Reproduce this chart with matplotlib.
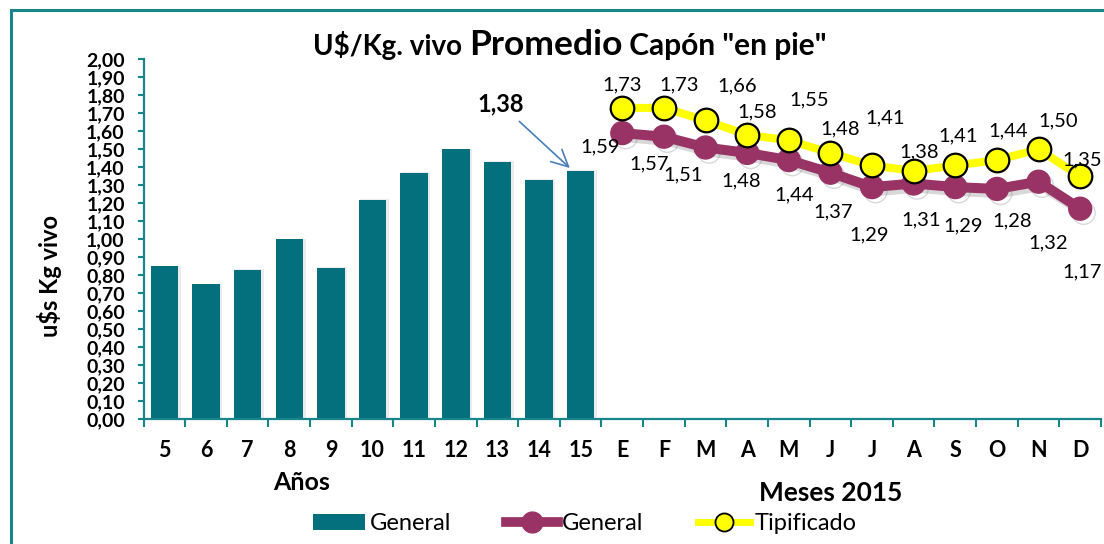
import matplotlib
matplotlib.use("Agg")
import matplotlib.pyplot as plt
import matplotlib.patheffects as pe
from matplotlib.patches import Rectangle, Patch
from matplotlib.lines import Line2D
import numpy as np

# ---------------- data ----------------
years = ["5", "6", "7", "8", "9", "10", "11", "12", "13", "14", "15"]
year_avg = [0.85, 0.75, 0.83, 1.00, 0.84, 1.22, 1.37, 1.50, 1.43, 1.33, 1.38]
months = ["E", "F", "M", "A", "M", "J", "J", "A", "S", "O", "N", "D"]
general_2015 = [1.59, 1.57, 1.51, 1.48, 1.44, 1.37, 1.29, 1.31, 1.29, 1.28, 1.32, 1.17]
tipificado_2015 = [1.73, 1.73, 1.66, 1.58, 1.55, 1.48, 1.41, 1.38, 1.41, 1.44, 1.50, 1.35]
y_ticks = [0.0, 0.1, 0.2, 0.3, 0.4, 0.5, 0.6, 0.7, 0.8, 0.9, 1.0,
           1.1, 1.2, 1.3, 1.4, 1.5, 1.6, 1.7, 1.8, 1.9, 2.0]
highlight_value = 1.38

# label offsets in pixels (layout only)
gen_offsets = [(-22, -14), (-15, -27), (-22, -27), (-6, -28), (5, -35), (3, -39),
               (-3, -48), (7, -36), (8, -39), (15, -32), (10, -61), (2, -63)]
tip_offsets = [(0, 23), (15, 23), (32, 35), (10, 23), (20, 40), (10, 24),
               (13, 48), (5, 19), (3, 30), (11, 29), (20, 28), (2, 16)]

# ---------------- style ----------------
FONT = "Lato"
plt.rcParams["font.family"] = [FONT, "DejaVu Sans"]
BAR = "#05707D"
PURPLE = "#993366"
YELLOW = "#FFFF00"
TEAL = "#17858A"

W, H = 1104, 544
fig = plt.figure(figsize=(W / 100, H / 100), dpi=100)

# outer border
fig.patches.append(Rectangle((11 / W, -0.5), 2.0, 1.5 - 10 / H, transform=fig.transFigure,
                             fill=False, edgecolor=TEAL, linewidth=2.2))

x0, x1 = 143.6, 1101.0
y0, y1 = 419.3, 59.3
ax = fig.add_axes([x0 / W, 1 - y0 / H, (x1 - x0) / W, (y0 - y1) / H])
ax.set_facecolor("none")

n_years = len(years)
xb = np.arange(n_years)
xl = np.arange(n_years, n_years + len(months))

# bar shadows + bars
ax.bar(xb + 0.04, [v + 0.004 for v in year_avg], width=0.70, color="#ececec", zorder=1)
ax.bar(xb, year_avg, width=0.66, color=BAR, zorder=2)

shadow = [pe.SimpleLineShadow(offset=(2.5, -3), shadow_color="#666666", alpha=0.25), pe.Normal()]
ax.plot(xl, general_2015, color=PURPLE, lw=7.2, marker="o", ms=16.5, mfc=PURPLE, mec=PURPLE,
        zorder=3, path_effects=shadow, solid_capstyle="round")
ax.plot(xl, tipificado_2015, color=YELLOW, lw=5.8, marker="o", ms=17, mfc=YELLOW, mec="black",
        mew=1.6, zorder=4)

for x, v, (dx, dy) in zip(xl, general_2015, gen_offsets):
    ax.annotate(f"{v:.2f}".replace(".", ","), (x, v), xytext=(dx, dy), textcoords="offset pixels",
                ha="center", va="center", fontsize=14.5, zorder=6, annotation_clip=False)
for x, v, (dx, dy) in zip(xl, tipificado_2015, tip_offsets):
    ax.annotate(f"{v:.2f}".replace(".", ","), (x, v), xytext=(dx, dy), textcoords="offset pixels",
                ha="center", va="center", fontsize=14.5, zorder=6, annotation_clip=False)

# highlighted arrow
ax.annotate(f"{highlight_value:.2f}".replace(".", ","), xy=(n_years - 1 - 0.26, highlight_value + 0.016),
            xytext=(8.08, 1.75), ha="center", va="center", fontsize=17, fontweight="bold",
            arrowprops=dict(arrowstyle="->,head_length=0.7,head_width=0.35", color="#4A7EBB", lw=1.2,
                            shrinkA=3, shrinkB=0))

ax.set_xlim(-0.5, n_years + len(months) - 0.5)
ax.set_ylim(0, 2.0)
ax.set_yticks(y_ticks)
ax.set_yticklabels([f"{t:.2f}".replace(".", ",") for t in y_ticks], fontsize=14, fontweight="bold")
ax.set_xticks(np.arange(n_years + len(months)))
ax.set_xticklabels(years + months, fontsize=15.5, fontweight="bold")
ax.set_xticks(np.arange(n_years + len(months) + 1) - 0.5, minor=True)
ax.tick_params(axis="x", which="major", length=0, pad=15)
ax.tick_params(axis="x", which="minor", length=6, width=1.5, color=TEAL, direction="out")
ax.tick_params(axis="y", length=4.5, width=1.5, color=TEAL, direction="out", pad=9)
for s in ["top", "right"]:
    ax.spines[s].set_visible(False)
for s in ["left", "bottom"]:
    ax.spines[s].set_color(TEAL)
    ax.spines[s].set_linewidth(1.6)

# axis titles
fig.text(50 / W, 1 - 276 / H, "u$s Kg vivo", rotation=90, ha="center", va="center",
         fontsize=17, fontweight="bold")
fig.text(302 / W, 1 - 482 / H, "Años", ha="center", va="center", fontsize=18, fontweight="bold")
fig.text(831 / W, 1 - 493 / H, "Meses 2015", ha="center", va="center", fontsize=19, fontweight="bold")

# title with mixed sizes
fig.canvas.draw()
r = fig.canvas.get_renderer()
parts = [("U$/Kg. vivo ", 20), ("Promedio", 25.5), (' Capón "en pie"', 21.5)]
texts = []
widths = []
for s, fs in parts:
    t = fig.text(0, 0, s, fontsize=fs, fontweight="bold", ha="left", va="baseline")
    texts.append(t)
    widths.append(t.get_window_extent(r).width)
total = sum(widths)
cx = 570
xpos = cx - total / 2
base_y = H - 55
for t, w in zip(texts, widths):
    t.set_position((xpos / W, base_y / H))
    xpos += w

# legend
handles = [Patch(facecolor=BAR, edgecolor="none"),
           Line2D([], [], color=PURPLE, lw=7, marker="o", ms=15, mfc=PURPLE, mec=PURPLE),
           Line2D([], [], color=YELLOW, lw=5, marker="o", ms=13, mfc=YELLOW, mec="black", mew=1.3)]
fig.legend(handles, ["General", "General", "Tipificado"], loc="center",
           bbox_to_anchor=(585 / W, 1 - 524 / H), ncol=3, frameon=False, fontsize=17,
           handlelength=2.2, handletextpad=0.2, columnspacing=2.3, handleheight=0.65)

fig.savefig("out.png", dpi=100)
